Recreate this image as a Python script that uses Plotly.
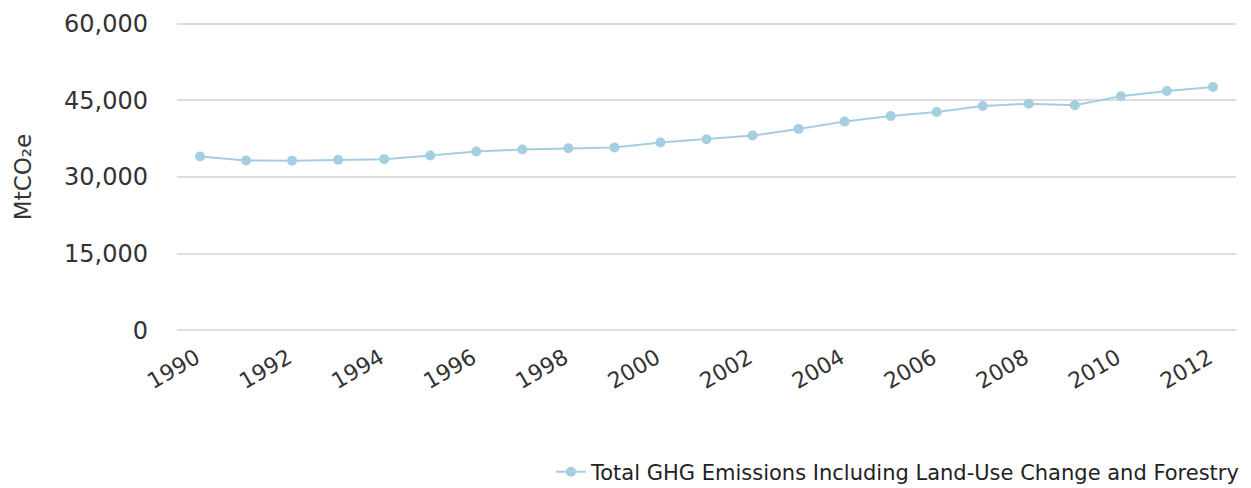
import plotly.graph_objects as go

years = [str(y) for y in range(1990, 2013)]
emissions = [34000, 33220, 33200, 33350, 33490, 34190, 34970, 35360, 35630, 35760,
             36730, 37380, 38100, 39400, 40830, 41935, 42715, 43885, 44340, 44020,
             45770, 46810, 47590]
series_name = "Total GHG Emissions Including Land-Use Change and Forestry"
y_ticks = [0, 15000, 30000, 45000, 60000]
x_ticks = [str(y) for y in range(1990, 2013, 2)]

FONT = "DejaVu Sans"
color = "#a6cee3"

fig = go.Figure()
fig.add_trace(go.Scatter(
    x=years, y=emissions, name=series_name, mode="lines+markers",
    line=dict(color=color, width=2),
    marker=dict(color=color, size=10),
))

fig.update_layout(
    width=1243, height=480,
    margin=dict(l=169, r=15, t=14, b=155.5, autoexpand=False),
    paper_bgcolor="white", plot_bgcolor="white",
    font=dict(family=FONT, color="#333333"),
    showlegend=True,
    legend=dict(orientation="h", x=1.0085, xanchor="right", y=-0.452, yanchor="middle",
                font=dict(family=FONT, size=21, color="#222222")),
    xaxis=dict(type="category", range=[-0.5, 22.5], tickmode="array",
               tickvals=x_ticks, ticktext=x_ticks, tickangle=-30,
               showgrid=False, showline=False, zeroline=False, automargin=False,
               ticklabelstandoff=8, ticklabelshift=-4,
               tickfont=dict(size=22, color="#333333")),
    yaxis=dict(range=[-300, 60300], tickmode="array", tickvals=y_ticks,
               ticktext=[f"{v:,}" for v in y_ticks],
               showgrid=True, gridcolor="#dddddd", gridwidth=1.5,
               zeroline=False, showline=False, ticklabelstandoff=28, automargin=False,
               tickfont=dict(size=24, color="#333333"),
               title=dict(text="MtCO₂e", font=dict(size=23, color="#333333"), standoff=25)),
)

fig.write_html("out.html")
